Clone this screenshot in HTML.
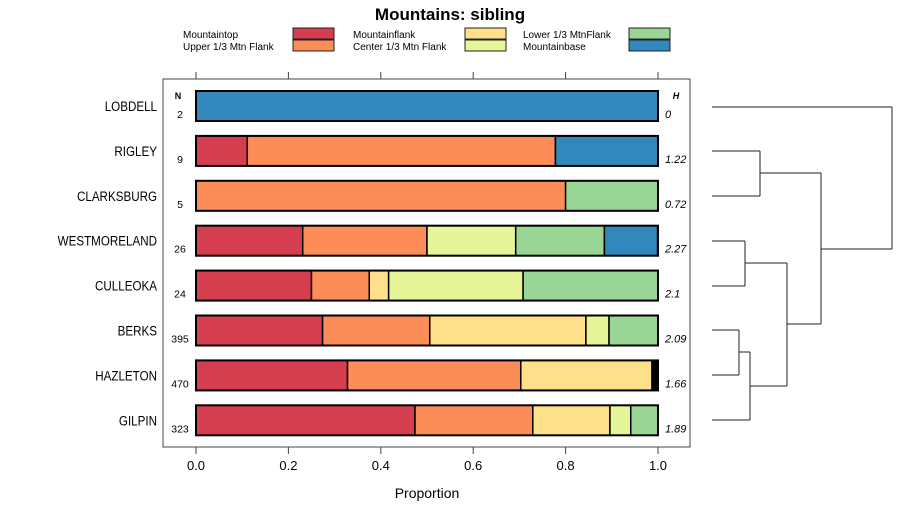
<!DOCTYPE html>
<html><head><meta charset="utf-8"><style>
body{margin:0;background:#fff;font-family:"Liberation Sans",sans-serif}
svg text{font-family:"Liberation Sans",sans-serif}
</style></head><body>
<svg id="c" width="900" height="520" xmlns="http://www.w3.org/2000/svg">
<text x="450" y="20" text-anchor="middle" font-size="17" font-weight="bold">Mountains: sibling</text>
<g id="legend"></g>
<rect x="163" y="79" width="527" height="368" fill="none" stroke="#444"/>
<g id="bars"></g><g id="axis"></g><g id="dendro"></g>
<text x="178" y="99" font-size="9" font-weight="bold" text-anchor="middle">N</text>
<text x="676" y="99" font-size="9" font-weight="bold" font-style="italic" text-anchor="middle">H</text>
<text x="427" y="498" font-size="14" text-anchor="middle">Proportion</text>
</svg>
<script>
const categories=["LOBDELL","RIGLEY","CLARKSBURG","WESTMORELAND","CULLEOKA","BERKS","HAZLETON","GILPIN"];
const nValues=[2,9,5,26,24,395,470,323];
const hValues=["0","1.22","0.72","2.27","2.1","2.09","1.66","1.89"];
const seriesNames=["Mountaintop","Upper 1/3 Mtn Flank","Mountainflank","Center 1/3 Mtn Flank","Lower 1/3 MtnFlank","Mountainbase"];
const colors=["#d53e4f","#fc8d59","#fee08b","#e6f598","#99d594","#3288bd"];
const mountaintop=[0,0.111,0,0.231,0.25,0.274,0.328,0.474];
const upperFlank=[0,0.667,0.8,0.269,0.125,0.232,0.375,0.255];
const mountainflank=[0,0,0,0,0.042,0.338,0.284,0.167];
const centerFlank=[0,0,0,0.192,0.291,0.05,0,0.045];
const lowerFlank=[0,0,0.2,0.192,0.292,0.106,0.005,0.059];
const mountainbase=[1,0.222,0,0.115,0,0,0.008,0];
const xTicks=[0,0.2,0.4,0.6,0.8,1.0];
const xTickLabels=["0.0","0.2","0.4","0.6","0.8","1.0"];
const NS="http://www.w3.org/2000/svg";
const x=v=>196+v*462, y=i=>106+i*44.9;
function mk(t,a,p){const e=document.createElementNS(NS,t);for(const k in a)e.setAttribute(k,a[k]);p.appendChild(e);return e;}
const series=[mountaintop,upperFlank,mountainflank,centerFlank,lowerFlank,mountainbase];
const bars=document.getElementById('bars');
categories.forEach((c,i)=>{
  const t=mk('text',{x:0,y:0,'font-size':14,'text-anchor':'end',transform:`translate(157,${y(i)+5}) scale(0.83,1)`},bars);t.textContent=c;
  
  
  let cum=0;
  series.forEach((s,k)=>{const v=s[i];if(v<=0)return;
    const r=mk('rect',{x:x(cum),y:y(i)-15,width:v*462,height:30,fill:v<0.01?'#000':colors[k],stroke:'#000','stroke-width':1.5},bars);
    
    
    cum+=v;});
  mk('rect',{x:x(0),y:y(i)-15,width:462,height:30,fill:'none',stroke:'#000','stroke-width':2},bars);
  const n=mk('text',{x:180,y:y(i)+12,'font-size':10.5,'text-anchor':'middle'},bars);n.textContent=nValues[i];
  
  
  const h=mk('text',{x:665,y:y(i)+12,'font-size':11,'font-style':'italic'},bars);h.textContent=hValues[i];
  
  
});
const ax=document.getElementById('axis');
xTicks.forEach((v,i)=>{
  mk('line',{x1:x(v),x2:x(v),y1:447,y2:454,stroke:'#444'},ax);
  mk('line',{x1:x(v),x2:x(v),y1:79,y2:72,stroke:'#444'},ax);
  const t=mk('text',{x:x(v),y:470,'font-size':13,'text-anchor':'middle'},ax);t.textContent=xTickLabels[i];
  
  
});
const lg=document.getElementById('legend');
const lx=[183,353,523],sx=[293,465,629];
seriesNames.forEach((s,k)=>{const col=Math.floor(k/2),row=k%2;
  const t=mk('text',{x:lx[col],y:38+row*12,'font-size':10},lg);t.textContent=s;
  
  
  mk('rect',{x:sx[col],y:28+row*12,width:41,height:11,fill:colors[k],stroke:'#222'},lg);
});
const d=document.getElementById('dendro');
const segs=[[712,107,892,107],[712,151,760,151],[712,196,760,196],[760,151,760,196],[760,173,821,173],
[712,241,745,241],[712,286,745,286],[745,241,745,286],[745,263,787,263],
[712,330,739,330],[712,375,739,375],[739,330,739,375],[739,352,750,352],[712,420,750,420],[750,352,750,420],[750,386,787,386],
[787,263,787,386],[787,324,821,324],[821,173,821,324],[821,249,892,249],[892,107,892,249]];
segs.forEach(s=>mk('line',{x1:s[0],y1:s[1],x2:s[2],y2:s[3],stroke:'#222','stroke-width':1},d));
</script>
</body></html>
